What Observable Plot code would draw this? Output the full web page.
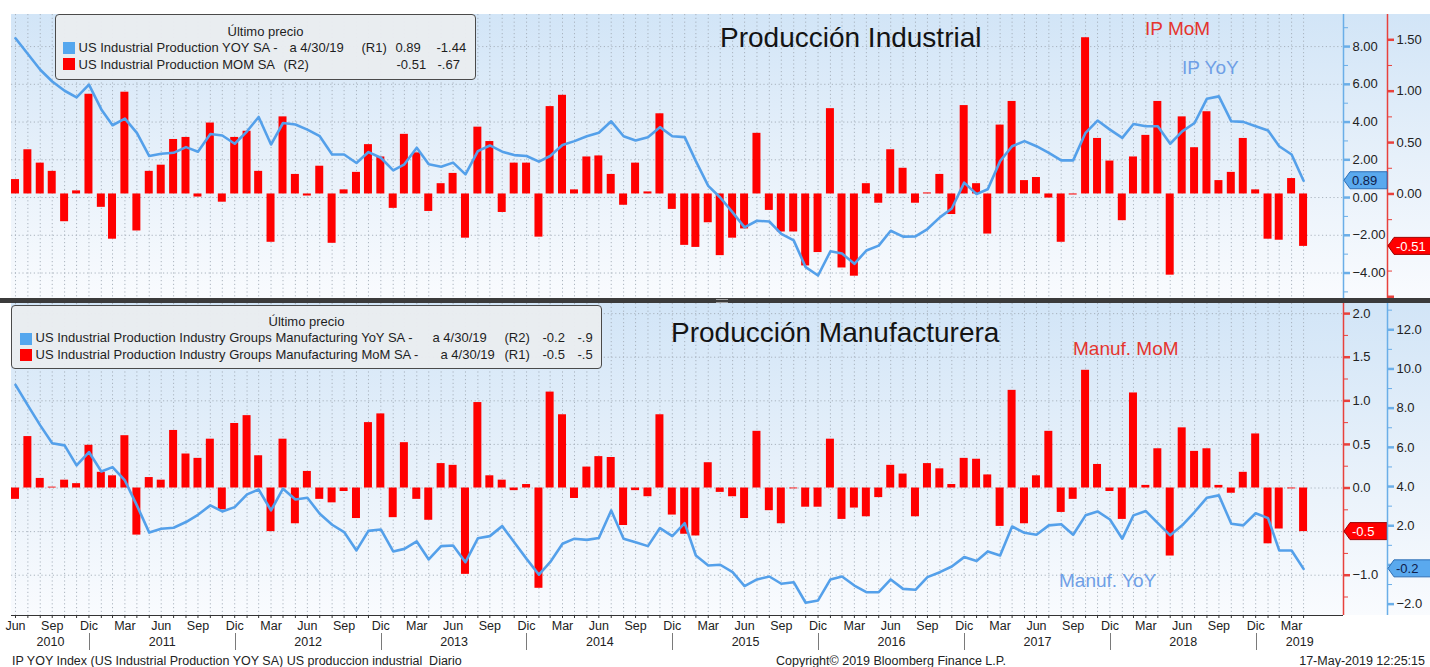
<!DOCTYPE html>
<html lang="es">
<head>
<meta charset="utf-8">
<script src="https://cdn.jsdelivr.net/npm/d3@7"></script>
<script src="https://cdn.jsdelivr.net/npm/@observablehq/plot@0.6"></script>
<style>
  html, body { margin:0; padding:0; background:#fff; }
  #root { position:relative; width:1430px; height:667px; overflow:hidden; font-family:"Liberation Sans", Arial, sans-serif; color:#1e1e1e; }
  #root svg { position:absolute; left:0; }
  .bg { position:absolute; background:linear-gradient(to bottom, #d2e5f7 0%, #e6f0fa 50%, #f9fbfe 100%); }
  .sep { position:absolute; left:0; top:298px; width:1430px; height:5px; background:#3b3b3b; }
  .grip { position:absolute; left:716px; top:299px; width:12px; height:2px; border-top:1px solid #9a9a9a; border-bottom:1px solid #9a9a9a; }
  .title { position:absolute; font-size:28px; line-height:28px; white-space:nowrap; color:#141414; }
  .note { position:absolute; font-size:19px; line-height:19px; white-space:nowrap; }
  .legend { position:absolute; box-sizing:border-box; border:1.5px solid #4a4a4a; border-radius:4px; background:rgba(233,236,240,0.97); font-size:13px; color:#1e1e1e; }
  .legend span { position:absolute; white-space:nowrap; line-height:13px; }
  .legend .sw { width:12px; height:12px; }
  .foot { position:absolute; top:654px; font-size:12.5px; line-height:14px; white-space:nowrap; color:#222; }
</style>
</head>
<body>
<div id="root">
  <div class="bg" style="left:11px;top:14px;width:1419px;height:284px;"></div>
  <div class="bg" style="left:11px;top:303px;width:1419px;height:312px;"></div>
</div>
<script>
// ---------------- DATA (monthly, Jun 2010 .. Apr 2019) ----------------
const firstMonth = "2010-06";
const ipMoM = [
  0.14, 0.43, 0.30, 0.22, -0.27, 0.03, 0.97, -0.13, -0.44, 0.99,
  -0.36, 0.22, 0.28, 0.53, 0.55, -0.03, 0.69, -0.08, 0.55, 0.61,
  0.22, -0.47, 0.75, 0.19, -0.02, 0.27, -0.48, 0.04, 0.21, 0.48,
  0.36, -0.14, 0.58, 0.40, -0.17, 0.10, 0.20, -0.43, 0.65, 0.51,
  -0.18, 0.30, 0.30, -0.42, 0.85, 0.96, 0.04, 0.36, 0.37, 0.19,
  -0.11, 0.30, 0.02, 0.78, -0.15, -0.50, -0.52, -0.28, -0.60, -0.43,
  -0.34, 0.59, -0.16, -0.37, -0.37, -0.70, -0.57, 0.83, -0.72, -0.80,
  0.10, -0.09, 0.43, 0.25, -0.09, 0.01, 0.19, -0.20, 0.86, 0.10,
  -0.39, 0.67, 0.90, 0.13, 0.16, -0.04, -0.47, -0.01, 1.52, 0.54,
  0.32, -0.26, 0.36, 0.57, 0.90, -0.79, 0.75, 0.45, 0.80, 0.13,
  0.21, 0.54, 0.04, -0.44, -0.45, 0.15, -0.51
];
const ipYoY = [
  8.44, 7.61, 6.77, 6.15, 5.66, 5.31, 5.98, 4.67, 3.83, 4.18,
  3.43, 2.20, 2.32, 2.37, 2.67, 2.43, 3.37, 3.29, 2.85, 3.51,
  4.27, 2.81, 3.95, 3.87, 3.60, 3.25, 2.28, 2.28, 1.83, 2.41,
  2.11, 1.44, 1.76, 2.64, 1.76, 1.63, 1.85, 1.23, 2.46, 2.76,
  2.43, 2.25, 2.20, 1.90, 2.20, 2.78, 2.99, 3.25, 3.43, 4.04,
  3.25, 3.02, 3.20, 3.73, 3.25, 3.20, 1.93, 0.62, 0.00, -0.79,
  -1.58, -1.23, -1.27, -1.93, -2.27, -3.69, -4.13, -2.85, -2.97, -3.51,
  -2.81, -2.55, -1.76, -2.07, -2.06, -1.67, -1.05, -0.58, 0.79, 0.18,
  0.44, 1.93, 2.72, 2.99, 2.72, 2.37, 1.97, 1.97, 3.43, 4.08,
  3.60, 3.16, 3.90, 3.78, 3.78, 2.85, 3.51, 3.95, 5.24, 5.36,
  4.04, 4.01, 3.78, 3.55, 2.72, 2.28, 0.89
];
const mfgMoM = [
  -0.13, 0.59, 0.11, 0.01, 0.09, 0.05, 0.49, 0.18, 0.14, 0.60,
  -0.54, 0.12, 0.09, 0.66, 0.39, 0.34, 0.56, -0.25, 0.74, 0.83,
  0.37, -0.50, 0.56, -0.41, 0.19, -0.13, -0.17, -0.04, -0.35, 0.75,
  0.85, -0.34, 0.52, -0.13, -0.37, 0.28, 0.26, -0.99, 0.98, 0.14,
  0.09, -0.03, 0.04, -1.15, 1.10, 0.84, -0.12, 0.24, 0.36, 0.35,
  -0.43, -0.03, -0.10, 0.84, -0.31, -0.53, -0.55, 0.29, -0.05, -0.10,
  -0.35, 0.65, -0.26, -0.41, -0.01, -0.22, -0.22, 0.56, -0.36, -0.23,
  -0.33, -0.11, 0.26, 0.16, -0.33, 0.28, 0.22, 0.04, 0.34, 0.33,
  0.15, -0.44, 1.12, -0.41, 0.14, 0.65, -0.28, -0.13, 1.35, 0.27,
  -0.04, -0.36, 1.09, 0.03, 0.45, -0.78, 0.69, 0.42, 0.45, 0.03,
  -0.06, 0.18, 0.62, -0.64, -0.47, -0.01, -0.50
];
const mfgYoY = [
  9.19, 8.14, 7.12, 6.21, 6.10, 5.08, 5.76, 4.77, 4.99, 4.31,
  3.04, 1.65, 1.85, 1.90, 2.19, 2.56, 3.04, 2.73, 2.95, 3.60,
  3.85, 2.78, 3.89, 3.34, 3.43, 2.61, 2.05, 1.68, 0.74, 1.74,
  1.81, 0.69, 0.82, 1.20, 0.28, 0.96, 0.99, 0.14, 1.36, 1.47,
  1.98, 1.16, 0.31, -0.50, 0.14, 1.08, 1.34, 1.28, 1.37, 2.78,
  1.34, 1.16, 0.96, 1.88, 1.47, 2.13, 0.48, -0.03, 0.01, -0.37,
  -1.08, -0.74, -0.59, -0.96, -0.88, -1.93, -1.81, -0.74, -0.59, -1.05,
  -1.39, -1.39, -0.74, -1.22, -1.27, -0.62, -0.37, -0.08, 0.40, 0.20,
  0.69, 0.48, 1.96, 1.64, 1.54, 2.02, 2.08, 1.54, 2.53, 2.73,
  2.32, 1.34, 2.53, 2.75, 2.13, 1.51, 2.02, 2.70, 3.43, 3.55,
  2.10, 2.02, 2.64, 2.39, 0.74, 0.74, -0.20
];
// last-value tags
const ipYoYLast = "0.89", ipMoMLast = "-0.51", mfgMoMLast = "-0.5", mfgYoYLast = "-0.2";
// axis ticks: labelled majors, unlabelled majors (hidden under tags / cut), minors
const ipYoYTicks = [-4, -2, 0, 2, 4, 6, 8];
const ipYoYHidden = [];
const ipYoYMinor = [-5, -3, -1, 1, 3, 5, 7, 9];
const ipMoMTicks = [0, 0.5, 1, 1.5];
const ipMoMHidden = [-1, -0.5];
const ipMoMMinor = [-0.75, -0.25, 0.25, 0.75, 1.25];
const mfgMoMTicks = [-1, 0, 0.5, 1, 1.5, 2];
const mfgMoMHidden = [-0.5];
const mfgMoMMinor = [-1.25, -0.75, -0.25, 0.25, 0.75, 1.25, 1.75];
const mfgYoYTicks = [-2, 2, 4, 6, 8, 10, 12];
const mfgYoYHidden = [0];
const mfgYoYMinor = [-1, 1, 3, 5, 7, 9, 11, 13];
const gridIp = [-4, -2, 0, 2, 4, 6, 8];
const gridMfg = [-1, -0.5, 0, 0.5, 1, 1.5, 2];
const monthAbbr = ["Ene","Feb","Mar","Abr","May","Jun","Jul","Ago","Sep","Oct","Nov","Dic"];
const labeledMonths = ["Mar","Jun","Sep","Dic"];
// scale domains
const xDomain = [new Date("2010-06-20"), new Date("2019-08-08")];
const ipYoYDomain = [-5.35, 9.70];
const ipMoMDomain = [-1.017, 1.746];
const mfgMoMDomain = [-1.462, 2.116];
const mfgYoYDomain = [-2.58, 13.34];

// ---------------- BUILD ----------------
const root = document.getElementById("root");
const start = d3.utcMonth.offset(new Date(firstMonth + "-01"), 1);
const dates = ipMoM.map((_, i) => d3.utcDay.offset(d3.utcMonth.offset(start, i), -1)); // month ends
const ipRows = dates.map((date, i) => ({date, mom: ipMoM[i], yoy: ipYoY[i]}));
const mfgRows = dates.map((date, i) => ({date, mom: mfgMoM[i], yoy: mfgYoY[i]}));
const jan1s = d3.utcYears(new Date("2011-01-01"), xDomain[1]);
const yearMids = [2010, ...jan1s.map(d => d.getUTCFullYear())].map(y => {
  const a = d3.max([new Date(Date.UTC(y, 0, 1)), xDomain[0]]);
  const b = d3.min([new Date(Date.UTC(y + 1, 0, 1)), xDomain[1]]);
  return new Date((+a + +b) / 2);
});

const RED = "#ff0000", RED_AXIS = "#e8413c", BLUE_LINE = "#54a0ea", BLUE_AXIS = "#6aaee8";
const GRID = {stroke: "#a3adb8", strokeOpacity: 0.9, strokeDasharray: "1.2,2.6"};
const font = {fontFamily: "'Liberation Sans', Arial, sans-serif", fontSize: "13px", color: "#222", background: "transparent", overflow: "visible"};
const common = {width: 1430, marginLeft: 11, marginRight: 87, style: font};
const barX1 = d => d3.utcDay.offset(d.date, -10);
const barX2 = d => d3.utcDay.offset(d.date, 10);

function yAxis(major, hidden, minor, fmt, stroke, dx) {
  return [
    Plot.axisY(minor, {anchor: "right", label: null, dx, tickSize: 4, stroke, strokeWidth: 1, tickFormat: () => ""}),
    Plot.axisY(hidden, {anchor: "right", label: null, dx, tickSize: 6, stroke, strokeWidth: 2.5, tickFormat: () => ""}),
    Plot.axisY(major, {anchor: "right", label: null, dx, tickSize: 6, tickPadding: 3, stroke, strokeWidth: 2.5, tickFormat: fmt, fill: "#222", fontSize: 13})
  ];
}
function tag(value, label, {fill, stroke, textFill, dx, w}) {
  return (index, scales, values, dims) => {
    const y = scales.y(value);
    const x0 = dims.width - dims.marginRight + dx;
    const h = 17, tip = 6;
    const g = d3.create("svg:g");
    g.append("path")
      .attr("d", `M${x0},${y}L${x0 + tip},${y - h / 2}H${x0 + w}V${y + h / 2}H${x0 + tip}Z`)
      .attr("fill", fill).attr("stroke", stroke).attr("stroke-width", 1);
    g.append("text").attr("x", x0 + 8).attr("y", y).attr("dy", "0.36em")
      .attr("text-anchor", "start")
      .attr("fill", textFill).attr("font-size", 13).text(label);
    return g.node();
  };
}
function place(svg, top) { svg.style.top = top + "px"; root.appendChild(svg); }

// ---- Top panel: Producción Industrial ----
const topOpts = {...common, height: 298, marginTop: 14, marginBottom: 0};
place(Plot.plot({
  ...topOpts,
  x: {type: "utc", domain: xDomain, axis: null},
  y: {domain: ipYoYDomain, axis: null},
  marks: [
    Plot.gridX(dates, GRID),
    Plot.gridY(gridIp, GRID)
  ]
}), 0);
place(Plot.plot({
  ...topOpts,
  x: {type: "utc", domain: xDomain, axis: null},
  y: {domain: ipMoMDomain},
  marks: [
    Plot.rectY(ipRows, {x1: barX1, x2: barX2, y1: 0, y2: "mom", fill: RED}),
    Plot.ruleX([xDomain[1]], {dx: 44, stroke: RED_AXIS, strokeWidth: 1.5}),
    ...yAxis(ipMoMTicks, ipMoMHidden, ipMoMMinor, d3.format(".2f"), RED_AXIS, 44),
    tag(ipMoM[ipMoM.length - 1], ipMoMLast, {fill: "#ff0000", stroke: "#a00000", textFill: "#fff", dx: 45, w: 50})
  ]
}), 0);
place(Plot.plot({
  ...topOpts,
  x: {type: "utc", domain: xDomain, axis: null},
  y: {domain: ipYoYDomain},
  marks: [
    Plot.line(ipRows, {x: "date", y: "yoy", stroke: BLUE_LINE, strokeWidth: 2.6, strokeLinejoin: "round"}),
    Plot.ruleX([xDomain[1]], {stroke: BLUE_AXIS, strokeWidth: 1.5}),
    ...yAxis(ipYoYTicks, ipYoYHidden, ipYoYMinor, d3.format(".2f"), BLUE_AXIS, 0),
    tag(ipYoY[ipYoY.length - 1], ipYoYLast, {fill: "#5aa9ee", stroke: "#2d6fb5", textFill: "#10204a", dx: 1, w: 43})
  ]
}), 0);

// ---- Bottom panel: Producción Manufacturera ----
const botOpts = {...common, height: 352, marginTop: 0, marginBottom: 40};
const yearSep = (index, scales, values, dims) => {
  const g = d3.create("svg:g").attr("stroke", "#7a7a7a").attr("stroke-width", 1);
  const yb = dims.height - dims.marginBottom;
  for (const d of jan1s) {
    const x = Math.round(scales.x(d)) + 0.5;
    g.append("line").attr("x1", x).attr("x2", x).attr("y1", yb + 18).attr("y2", yb + 35);
  }
  return g.node();
};
place(Plot.plot({
  ...botOpts,
  x: {type: "utc", domain: xDomain},
  y: {domain: mfgMoMDomain},
  marks: [
    Plot.gridX(dates, GRID),
    Plot.gridY(gridMfg, GRID),
    Plot.rectY(mfgRows, {x1: barX1, x2: barX2, y1: 0, y2: "mom", fill: RED}),
    Plot.ruleY([mfgMoMDomain[0]], {stroke: "#333", strokeWidth: 1.2}),
    Plot.axisX(dates, {anchor: "bottom", label: null, tickSize: 3, tickPadding: 3, stroke: "#333", fill: "#222", fontSize: 12.5,
      tickFormat: d => { const m = monthAbbr[d.getUTCMonth()]; return labeledMonths.includes(m) ? m : ""; }}),
    Plot.axisX(yearMids, {anchor: "bottom", label: null, tickSize: 0, tickPadding: 22, fill: "#222", fontSize: 12.5, tickFormat: d3.utcFormat("%Y")}),
    yearSep,
    Plot.ruleX([xDomain[1]], {stroke: RED_AXIS, strokeWidth: 1.5}),
    ...yAxis(mfgMoMTicks, mfgMoMHidden, mfgMoMMinor, d3.format(".1f"), RED_AXIS, 0),
    tag(mfgMoM[mfgMoM.length - 1], mfgMoMLast, {fill: "#ff0000", stroke: "#a00000", textFill: "#fff", dx: 1, w: 43})
  ]
}), 303);
place(Plot.plot({
  ...botOpts,
  x: {type: "utc", domain: xDomain, axis: null},
  y: {domain: mfgYoYDomain},
  marks: [
    Plot.line(mfgRows, {x: "date", y: "yoy", stroke: BLUE_LINE, strokeWidth: 2.6, strokeLinejoin: "round"}),
    Plot.ruleX([xDomain[1]], {dx: 44, stroke: BLUE_AXIS, strokeWidth: 1.5}),
    ...yAxis(mfgYoYTicks, mfgYoYHidden, mfgYoYMinor, d3.format(".1f"), BLUE_AXIS, 44),
    tag(mfgYoY[mfgYoY.length - 1], mfgYoYLast, {fill: "#5aa9ee", stroke: "#2d6fb5", textFill: "#10204a", dx: 45, w: 50})
  ]
}), 303);

// ---------------- TEXT FURNITURE ----------------
root.insertAdjacentHTML("beforeend", `
  <div class="sep"></div><div class="grip"></div>
  <div class="title" style="left:720px;top:24px;">Producción Industrial</div>
  <div class="note" style="left:1145px;top:19px;color:#e5352e;">IP MoM</div>
  <div class="note" style="left:1182px;top:58px;color:#6f9fe6;">IP YoY</div>
  <div class="title" style="left:671px;top:319px;">Producción Manufacturera</div>
  <div class="note" style="left:1073px;top:339px;color:#e5352e;">Manuf. MoM</div>
  <div class="note" style="left:1059px;top:571px;color:#6f9fe6;">Manuf. YoY</div>

  <div class="legend" style="left:55px;top:14px;width:421px;height:66px;">
    <span style="left:0;width:100%;text-align:center;top:10px;">Último precio</span>
    <span class="sw" style="left:6.5px;top:26.5px;background:#55a7ee;"></span>
    <span style="left:22.5px;top:26px;">US Industrial Production YOY SA -</span>
    <span style="left:233.5px;top:26px;">a 4/30/19</span>
    <span style="left:305.5px;top:26px;">(R1)</span>
    <span style="left:339.5px;top:26px;">0.89</span>
    <span style="left:380.5px;top:26px;">-1.44</span>
    <span class="sw" style="left:6.5px;top:42.5px;background:#ff0000;"></span>
    <span style="left:22.5px;top:43px;">US Industrial Production MOM SA</span>
    <span style="left:227.5px;top:43px;">(R2)</span>
    <span style="left:340.5px;top:43px;">-0.51</span>
    <span style="left:381.5px;top:43px;">-.67</span>
  </div>

  <div class="legend" style="left:11px;top:305px;width:591px;height:64px;">
    <span style="left:0;width:100%;text-align:center;top:9px;">Último precio</span>
    <span class="sw" style="left:7.5px;top:26.5px;background:#55a7ee;"></span>
    <span style="left:23.5px;top:25px;">US Industrial Production Industry Groups Manufacturing YoY SA -</span>
    <span style="left:420.5px;top:25px;">a 4/30/19</span>
    <span style="left:492.5px;top:25px;">(R2)</span>
    <span style="left:530.5px;top:25px;">-0.2</span>
    <span style="left:565.5px;top:25px;">-.9</span>
    <span class="sw" style="left:7.5px;top:42.5px;background:#ff0000;"></span>
    <span style="left:23.5px;top:42px;">US Industrial Production Industry Groups Manufacturing MoM SA -</span>
    <span style="left:428.5px;top:42px;">a 4/30/19</span>
    <span style="left:492.5px;top:42px;">(R1)</span>
    <span style="left:530.5px;top:42px;">-0.5</span>
    <span style="left:565.5px;top:42px;">-.5</span>
  </div>

  <div class="foot" style="left:12px;">IP YOY Index (US Industrial Production YOY SA) US produccion industrial&nbsp; Diario</div>
  <div class="foot" style="left:891px;transform:translateX(-50%);">Copyright© 2019 Bloomberg Finance L.P.</div>
  <div class="foot" style="right:5px;">17-May-2019 12:25:15</div>
`);
</script>
</body>
</html>
